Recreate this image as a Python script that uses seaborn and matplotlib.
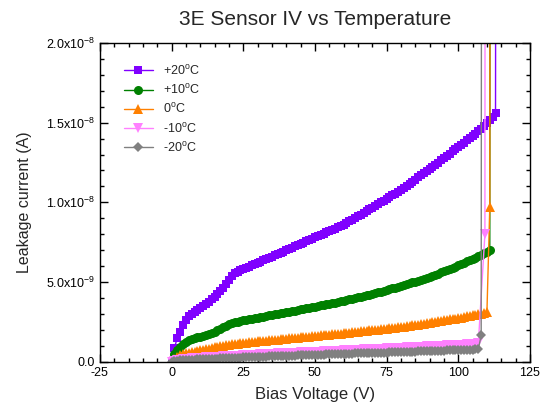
import matplotlib
matplotlib.use("Agg")
import matplotlib.pyplot as plt
from matplotlib.ticker import MultipleLocator, FuncFormatter
import seaborn as sns

sns.set_style("ticks")
plt.rcParams["font.family"] = ["Liberation Sans", "DejaVu Sans"]
plt.rcParams["mathtext.default"] = "regular"
plt.rcParams["axes.unicode_minus"] = False

# Bias voltage sweep (V), 1 V steps
voltage = [
    0, 1, 2, 3, 4, 5, 6, 7, 8, 9,
    10, 11, 12, 13, 14, 15, 16, 17, 18, 19,
    20, 21, 22, 23, 24, 25, 26, 27, 28, 29,
    30, 31, 32, 33, 34, 35, 36, 37, 38, 39,
    40, 41, 42, 43, 44, 45, 46, 47, 48, 49,
    50, 51, 52, 53, 54, 55, 56, 57, 58, 59,
    60, 61, 62, 63, 64, 65, 66, 67, 68, 69,
    70, 71, 72, 73, 74, 75, 76, 77, 78, 79,
    80, 81, 82, 83, 84, 85, 86, 87, 88, 89,
    90, 91, 92, 93, 94, 95, 96, 97, 98, 99,
    100, 101, 102, 103, 104, 105, 106, 107, 108, 109,
    110, 111, 112, 113,
]

# Leakage current in nA
i_p20 = [
    0.0, 0.9, 1.5, 1.9, 2.3, 2.65, 2.85, 3.0, 3.15, 3.25,
    3.4, 3.5, 3.62, 3.78, 3.95, 4.1, 4.25, 4.45, 4.65, 4.9,
    5.15, 5.4, 5.55, 5.65, 5.75, 5.82, 5.88, 5.95, 6.05, 6.12,
    6.2, 6.28, 6.36, 6.44, 6.52, 6.6, 6.68, 6.76, 6.84, 6.92,
    7.0, 7.08, 7.16, 7.24, 7.32, 7.4, 7.48, 7.56, 7.64, 7.72,
    7.8, 7.88, 7.96, 8.04, 8.12, 8.2, 8.28, 8.36, 8.44, 8.52,
    8.6, 8.7, 8.81, 8.92, 9.02, 9.13, 9.24, 9.34, 9.45, 9.56,
    9.67, 9.78, 9.89, 10.0, 10.11, 10.22, 10.33, 10.44, 10.55, 10.66,
    10.77, 10.9, 11.03, 11.16, 11.3, 11.43, 11.56, 11.7, 11.83, 11.96,
    12.1, 12.23, 12.37, 12.5, 12.64, 12.77, 12.91, 13.05, 13.19, 13.33,
    13.47, 13.61, 13.75, 13.89, 14.03, 14.17, 14.31, 14.45, 14.62, 14.8,
    14.98, 15.17, 15.37, 15.6,
]
i_p10 = [
    0.0, 0.5, 0.75, 0.95, 1.12, 1.25, 1.35, 1.43, 1.5, 1.54,
    1.58, 1.62, 1.67, 1.73, 1.8, 1.88, 1.97, 2.07, 2.18, 2.28,
    2.36, 2.43, 2.48, 2.52, 2.56, 2.6, 2.63, 2.67, 2.7, 2.74,
    2.77, 2.81, 2.84, 2.88, 2.91, 2.95, 2.98, 3.02, 3.05, 3.08,
    3.12, 3.15, 3.19, 3.22, 3.26, 3.29, 3.33, 3.36, 3.4, 3.43,
    3.47, 3.5, 3.54, 3.57, 3.61, 3.64, 3.68, 3.72, 3.76, 3.8,
    3.84, 3.88, 3.92, 3.96, 4.0, 4.05, 4.09, 4.13, 4.18, 4.22,
    4.27, 4.31, 4.36, 4.41, 4.46, 4.51, 4.56, 4.61, 4.66, 4.71,
    4.76, 4.82, 4.87, 4.93, 4.98, 5.04, 5.1, 5.16, 5.22, 5.28,
    5.34, 5.41, 5.47, 5.54, 5.61, 5.68, 5.75, 5.83, 5.9, 5.98,
    6.06, 6.14, 6.22, 6.3, 6.38, 6.46, 6.54, 6.63, 6.72, 6.81,
    6.9, 7.0,
]
i_0 = [
    0.0, 0.2, 0.32, 0.42, 0.48, 0.53, 0.57, 0.61, 0.65, 0.68,
    0.72, 0.75, 0.79, 0.83, 0.87, 0.91, 0.95, 0.99, 1.02, 1.05,
    1.08, 1.1, 1.12, 1.14, 1.16, 1.18, 1.2, 1.22, 1.24, 1.26,
    1.28, 1.3, 1.31, 1.33, 1.35, 1.37, 1.38, 1.4, 1.42, 1.44,
    1.46, 1.48, 1.49, 1.51, 1.53, 1.54, 1.56, 1.57, 1.59, 1.61,
    1.62, 1.64, 1.66, 1.67, 1.69, 1.71, 1.72, 1.74, 1.76, 1.77,
    1.79, 1.81, 1.83, 1.85, 1.87, 1.89, 1.91, 1.93, 1.95, 1.97,
    1.99, 2.01, 2.03, 2.05, 2.07, 2.09, 2.11, 2.13, 2.15, 2.17,
    2.19, 2.22, 2.24, 2.27, 2.29, 2.32, 2.34, 2.37, 2.39, 2.42,
    2.45, 2.48, 2.51, 2.54, 2.57, 2.6, 2.63, 2.66, 2.69, 2.72,
    2.75, 2.78, 2.82, 2.85, 2.89, 2.92, 2.96, 2.99, 3.03, 3.06, 3.1,
]
i_m10 = [
    0.0, 0.08, 0.12, 0.15, 0.17, 0.19, 0.21, 0.22, 0.24, 0.25,
    0.26, 0.27, 0.28, 0.29, 0.3, 0.31, 0.32, 0.33, 0.34, 0.35,
    0.36, 0.37, 0.38, 0.39, 0.4, 0.41, 0.42, 0.43, 0.44, 0.45,
    0.46, 0.47, 0.48, 0.49, 0.5, 0.51, 0.52, 0.53, 0.54, 0.55,
    0.56, 0.57, 0.57, 0.58, 0.59, 0.6, 0.61, 0.61, 0.62, 0.63,
    0.64, 0.65, 0.65, 0.66, 0.67, 0.68, 0.69, 0.69, 0.7, 0.71,
    0.72, 0.73, 0.74, 0.74, 0.75, 0.76, 0.77, 0.78, 0.79, 0.79,
    0.8, 0.81, 0.82, 0.83, 0.84, 0.85, 0.86, 0.86, 0.87, 0.88,
    0.89, 0.9, 0.91, 0.92, 0.93, 0.93, 0.94, 0.95, 0.96, 0.97,
    0.98, 0.99, 1.0, 1.0, 1.01, 1.02, 1.03, 1.04, 1.05, 1.06,
    1.07, 1.08, 1.09, 1.1, 1.11, 1.12, 1.14, 1.16,
]
i_m20 = [
    0.0, 0.05, 0.08, 0.1, 0.11, 0.12, 0.13, 0.14, 0.15, 0.16,
    0.17, 0.17, 0.18, 0.19, 0.2, 0.2, 0.21, 0.22, 0.22, 0.23,
    0.24, 0.25, 0.25, 0.26, 0.27, 0.28, 0.28, 0.29, 0.3, 0.31,
    0.31, 0.32, 0.33, 0.33, 0.34, 0.35, 0.35, 0.36, 0.37, 0.37,
    0.38, 0.39, 0.39, 0.4, 0.41, 0.41, 0.42, 0.42, 0.43, 0.44,
    0.44, 0.45, 0.45, 0.46, 0.47, 0.47, 0.48, 0.48, 0.49, 0.5,
    0.5, 0.51, 0.51, 0.52, 0.53, 0.53, 0.54, 0.54, 0.55, 0.56,
    0.56, 0.57, 0.57, 0.58, 0.59, 0.59, 0.6, 0.6, 0.61, 0.62,
    0.62, 0.63, 0.63, 0.64, 0.65, 0.65, 0.66, 0.66, 0.67, 0.68,
    0.68, 0.69, 0.69, 0.7, 0.71, 0.71, 0.72, 0.72, 0.73, 0.74,
    0.74, 0.75, 0.75, 0.76, 0.77, 0.77, 0.78, 0.79,
]

# Breakdown points at the end of each sweep (V, nA)
bd_v_p20, bd_i_p20 = [113.4], [80.0]
bd_v_p10, bd_i_p10 = [111.3], [80.0]
bd_v_0, bd_i_0 = [111.0, 111.3], [9.7, 80.0]
bd_v_m10, bd_i_m10 = [109.3, 109.5], [8.0, 80.0]
bd_v_m20, bd_i_m20 = [108.0, 108.3], [1.67, 80.0]

labels = ["+20$^{o}$C", "+10$^{o}$C", "0$^{o}$C", "-10$^{o}$C", "-20$^{o}$C"]
colors = ["#8000FF", "#008000", "#FF8000", "#FF80FF", "#808080"]
markers = ["s", "o", "^", "v", "D"]
sizes = [5.5, 6.5, 6.5, 6.5, 5.5]

series = [
    (i_p20, bd_v_p20, bd_i_p20),
    (i_p10, bd_v_p10, bd_i_p10),
    (i_0, bd_v_0, bd_i_0),
    (i_m10, bd_v_m10, bd_i_m10),
    (i_m20, bd_v_m20, bd_i_m20),
]

fig = plt.figure(figsize=(5.52, 4.16), dpi=100)
ax = fig.add_axes([0.181, 0.130, 0.779, 0.767])

for (cur, bdv, bdi), lab, col, mk, ms in zip(series, labels, colors, markers, sizes):
    x = voltage[:len(cur)] + bdv
    y = [c * 1e-9 for c in cur + bdi]
    sns.lineplot(x=x, y=y, ax=ax, color=col, marker=mk, markersize=ms,
                 markeredgewidth=0, linewidth=1, label=lab,
                 estimator=None, sort=False)

ax.set_xlim(-25, 125)
ax.set_ylim(0, 2e-8)
ax.xaxis.set_major_locator(MultipleLocator(25))
ax.xaxis.set_minor_locator(MultipleLocator(5))
ax.yaxis.set_major_locator(MultipleLocator(5e-9))
ax.yaxis.set_minor_locator(MultipleLocator(1e-9))


def yfmt(v, pos):
    if abs(v) < 1e-15:
        return "0.0"
    exp = 0
    m = v
    while abs(m) < 1:
        m *= 10
        exp -= 1
    return f"{m:.1f}x10$^{{{exp}}}$"


ax.yaxis.set_major_formatter(FuncFormatter(yfmt))
ax.tick_params(which="both", direction="in", top=True, right=True,
               labelsize=9, colors="black")
ax.tick_params(which="major", length=6, width=1)
ax.tick_params(which="minor", length=3, width=1)
for s in ax.spines.values():
    s.set_color("black")
    s.set_linewidth(1)

ax.set_xlabel("Bias Voltage (V)", fontsize=12, labelpad=6)
ax.set_ylabel("Leakage current (A)", fontsize=11.5, labelpad=10)
ax.set_title("3E Sensor IV vs Temperature", fontsize=15, pad=13)

ax.legend(loc="upper left", bbox_to_anchor=(0.03, 0.97), frameon=False,
          fontsize=9, handlelength=2.3, handletextpad=0.8, labelspacing=0.42)

fig.savefig("out.png", dpi=100)
